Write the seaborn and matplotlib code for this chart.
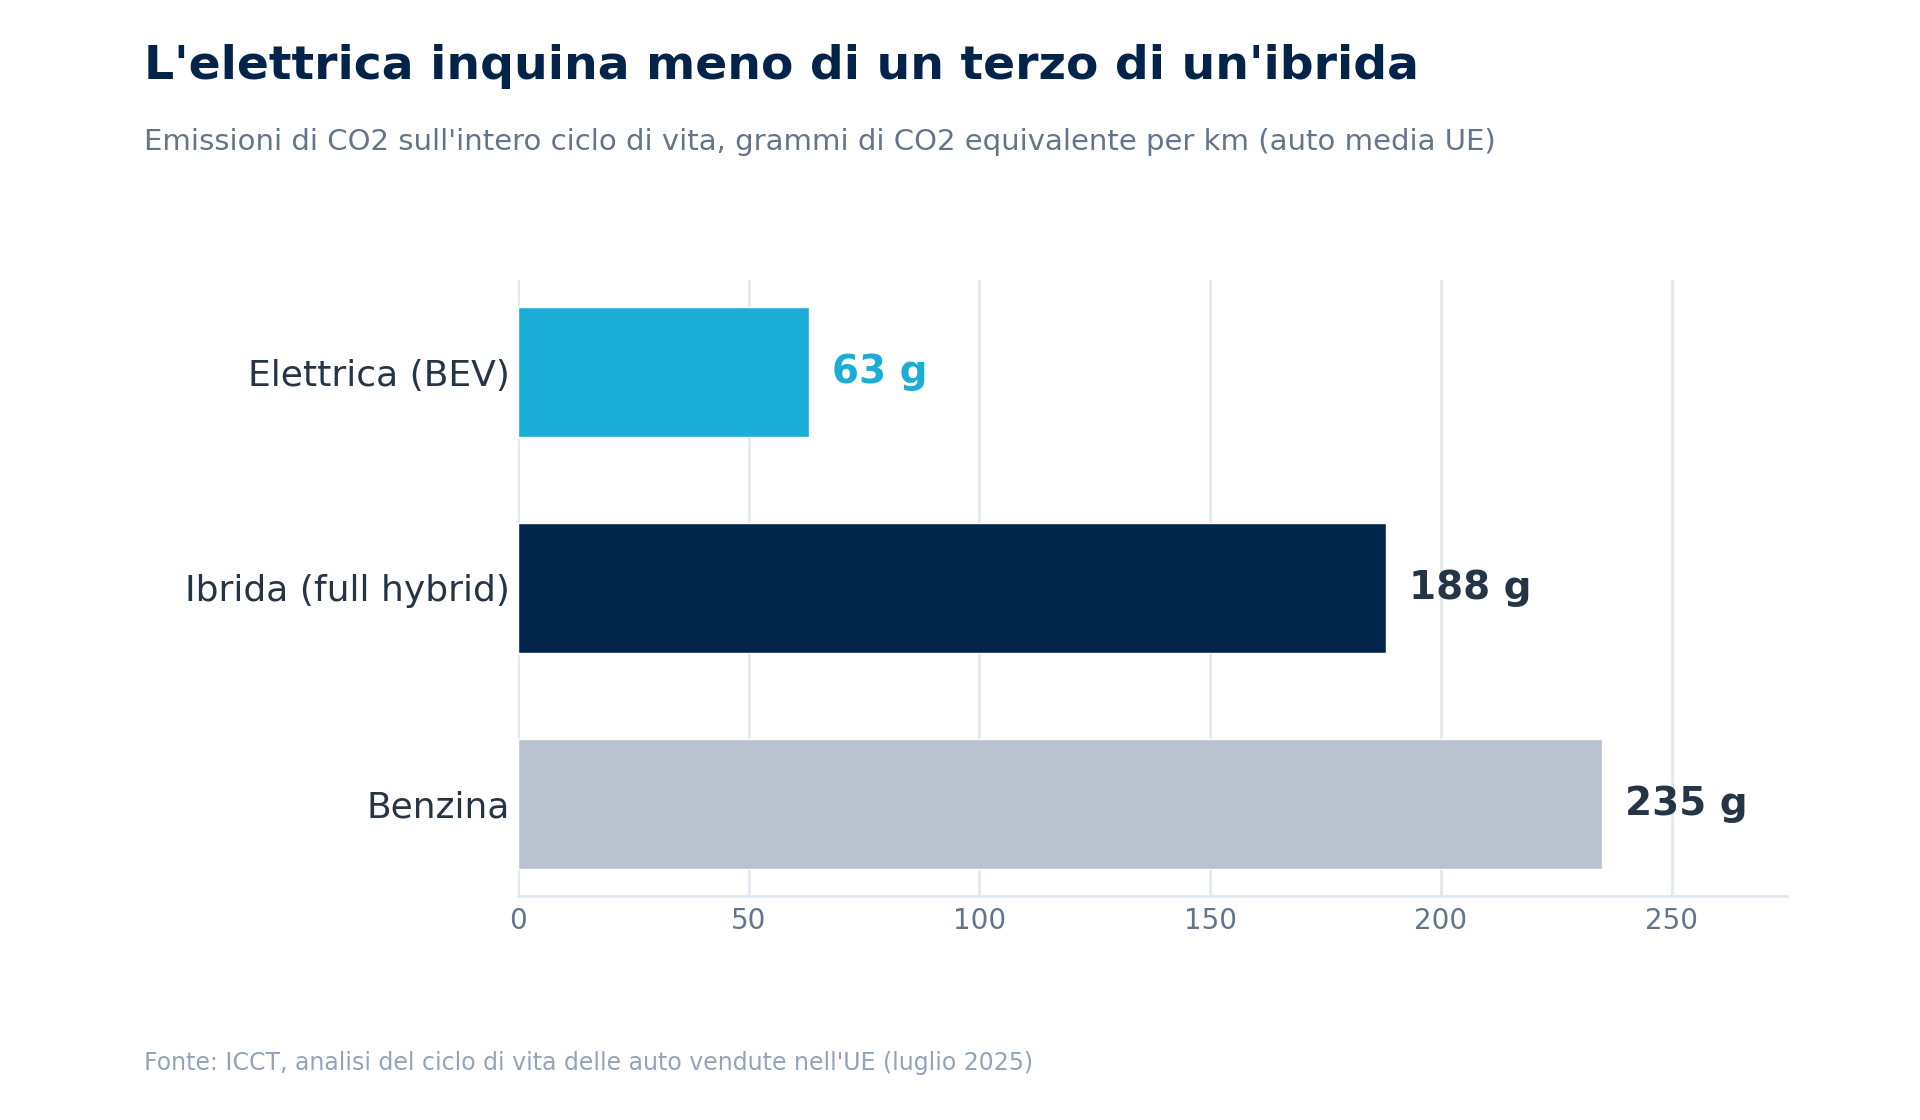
import pandas as pd
import seaborn as sns
import matplotlib.pyplot as plt

# data
categorie = ["Elettrica (BEV)", "Ibrida (full hybrid)", "Benzina"]
emissioni = [63, 188, 235]
colori = ["#1badd6", "#03254c", "#b8c2ce"]
colori_etichette = ["#1badd6", "#263545", "#263545"]

df = pd.DataFrame({"tipo": categorie, "g": emissioni})

sns.set_style("white")
plt.rcParams['font.family'] = ['DejaVu Sans']

fig = plt.figure(figsize=(19.2, 11.2), dpi=100)
ax = fig.add_axes([0.2698, 0.2, 0.6609, 0.55])

sns.barplot(data=df, x="g", y="tipo", hue="tipo", palette=colori,
            width=0.6, legend=False, ax=ax, saturation=1)

ax.set_xlim(0, 275)
ax.set_ylim(2.426, -0.426)
ax.set_xticks([0, 50, 100, 150, 200, 250])
ax.xaxis.grid(True, color="#e2e8f0", linewidth=2)
ax.set_axisbelow(True)
for s in ["top", "right", "left"]:
    ax.spines[s].set_visible(False)
ax.spines["bottom"].set_color("#e2e8f0")
ax.spines["bottom"].set_linewidth(2)
ax.tick_params(axis="x", length=0, labelsize=20, colors="#64748b", pad=8)
ax.tick_params(axis="y", length=0, labelsize=26, labelcolor="#263545", pad=6)
ax.set_xlabel("")
ax.set_ylabel("")

for i, (v, c) in enumerate(zip(emissioni, colori_etichette)):
    ax.text(v + 5, i, f"{v} g", va="center", ha="left", fontsize=28,
            fontweight="bold", color=c)

fig.text(0.075, 0.941, "L'elettrica inquina meno di un terzo di un'ibrida",
         fontsize=34, fontweight="bold", color="#03244a", va="center")
fig.text(0.075, 0.873, "Emissioni di CO2 sull'intero ciclo di vita, grammi di CO2 equivalente per km (auto media UE)",
         fontsize=21, color="#64748b", va="center")
fig.text(0.075, 0.051, "Fonte: ICCT, analisi del ciclo di vita delle auto vendute nell'UE (luglio 2025)",
         fontsize=17, color="#94a3b8", va="center")

fig.savefig("out.png", dpi=100, facecolor="white")
